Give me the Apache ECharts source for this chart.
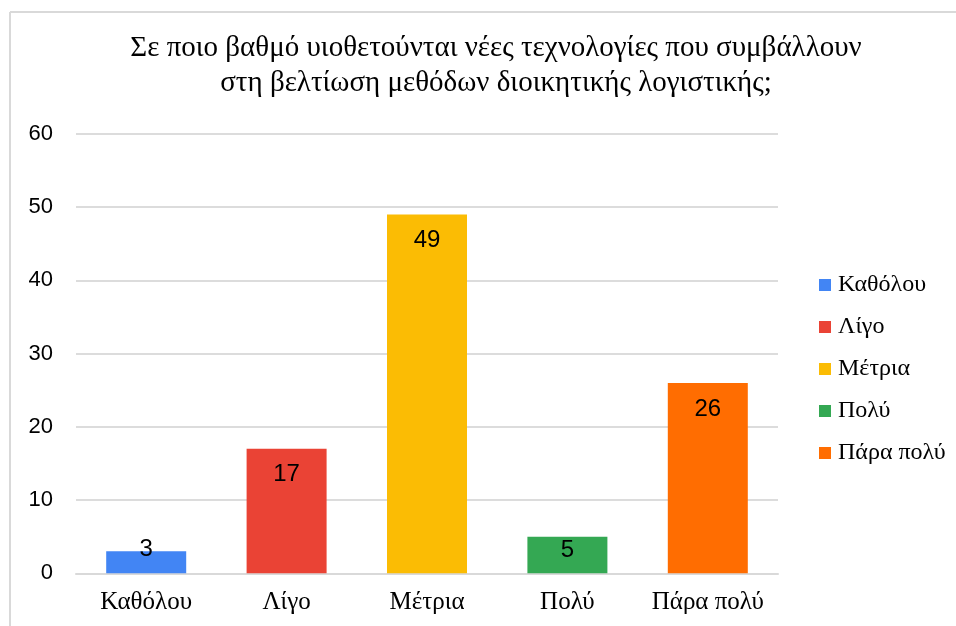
<!DOCTYPE html>
<html>
<head>
<meta charset="utf-8">
<style>html,body{margin:0;padding:0;background:#fff;}#c{width:956px;height:626px;}</style>
<script src="https://cdn.jsdelivr.net/npm/echarts@6/dist/echarts.min.js"></script>
</head>
<body>
<div id="c"></div>
<script>
const titleLines = ['Σε ποιο βαθμό υιοθετούνται νέες τεχνολογίες που συμβάλλουν', 'στη βελτίωση μεθόδων διοικητικής λογιστικής;'];
const categories = ['Καθόλου', 'Λίγο', 'Μέτρια', 'Πολύ', 'Πάρα πολύ'];
const values = [3, 17, 49, 5, 26];
const colors = ['#4285F4', '#EA4335', '#FBBC04', '#34A853', '#FF6D01'];
const yTicks = [0, 10, 20, 30, 40, 50, 60];

const chart = echarts.init(document.getElementById('c'), null, {renderer: 'canvas'});

function labelFor(v) {
  const base = {show: true, color: '#000', fontFamily: 'Liberation Sans, Arial, sans-serif', fontSize: 24};
  if (v < 4) return Object.assign(base, {position: 'top', distance: -10});
  if (v < 8) return Object.assign(base, {position: 'insideTop', distance: 2});
  return Object.assign(base, {position: 'insideTop', distance: 14});
}

const series = categories.map((name, i) => ({
  name: name,
  type: 'bar',
  stack: 'all',
  barWidth: 80,
  itemStyle: {color: colors[i]},
  label: labelFor(values[i]),
  data: categories.map((c, j) => (j === i ? values[i] : '-'))
}));

chart.setOption({
  animation: false,
  backgroundColor: '#fff',
  color: colors,
  title: {
    text: titleLines.join('\n'),
    left: 491,
    top: 26,
    textAlign: 'center',
    textStyle: {fontFamily: 'Liberation Serif, Times New Roman, serif', fontSize: 29, fontWeight: 'normal', color: '#000', lineHeight: 35}
  },
  legend: {
    orient: 'vertical',
    left: 814,
    top: 268,
    itemWidth: 12,
    itemHeight: 12,
    itemGap: 18,
    icon: 'rect',
    data: categories,
    textStyle: {fontFamily: 'Liberation Serif, Times New Roman, serif', fontSize: 24, color: '#000', padding: [0, 0, 0, 2]}
  },
  grid: {left: 76, top: 134, width: 702, height: 439.3},
  xAxis: {
    type: 'category',
    data: categories,
    axisTick: {show: false},
    axisLine: {show: true, lineStyle: {color: '#d9d9d9', width: 2}},
    axisLabel: {interval: 0, fontFamily: 'Liberation Serif, Times New Roman, serif', fontSize: 25, color: '#000', margin: 17}
  },
  yAxis: {
    type: 'value',
    min: yTicks[0],
    max: yTicks[yTicks.length - 1],
    interval: 10,
    axisLine: {show: false},
    axisTick: {show: false},
    splitLine: {lineStyle: {color: '#dcdcdc', width: 2}},
    axisLabel: {fontFamily: 'Liberation Sans, Arial, sans-serif', fontSize: 22, color: '#000', margin: 23}
  },
  graphic: [
    {type: 'line', shape: {x1: 10, y1: 12, x2: 956, y2: 12}, style: {stroke: '#d9d9d9', lineWidth: 2}},
    {type: 'line', shape: {x1: 10, y1: 12, x2: 10, y2: 626}, style: {stroke: '#d9d9d9', lineWidth: 2}}
  ],
  series: series
});
</script>
</body>
</html>
